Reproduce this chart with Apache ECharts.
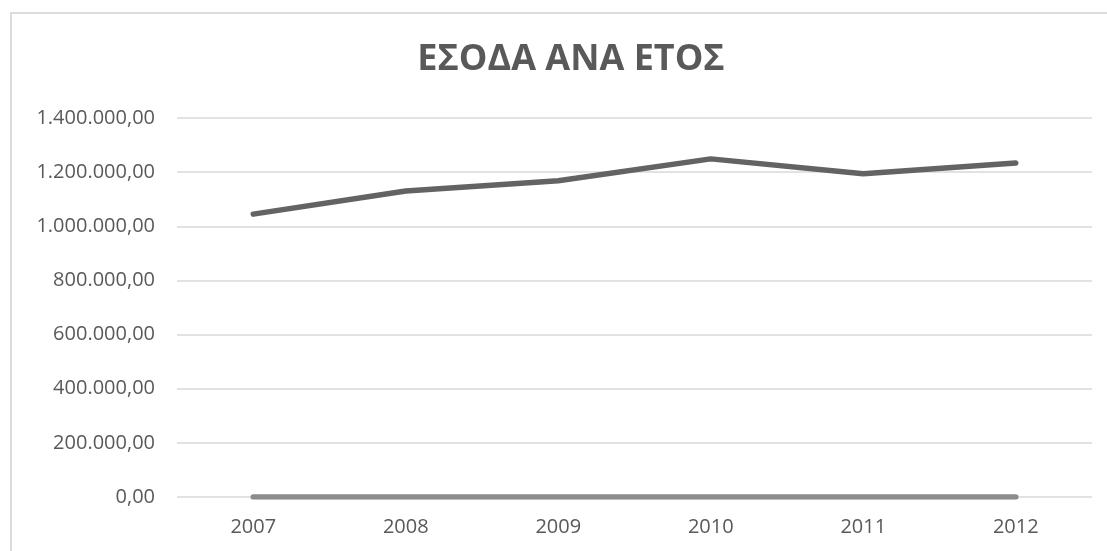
<!DOCTYPE html>
<html>
<head>
<meta charset="utf-8">
<script src="https://cdn.jsdelivr.net/npm/echarts@6/dist/echarts.min.js"></script>
<style>
html,body{margin:0;padding:0;background:#fff;overflow:hidden;}
#frame{position:absolute;left:10px;top:12px;width:1200px;height:600px;border:2px solid #dcdcdc;box-sizing:border-box;}
#chart{position:absolute;left:0;top:0;width:1107px;height:551px;}
</style>
</head>
<body>
<div id="frame"></div>
<div id="chart"></div>
<script>
var titleText = 'ΕΣΟΔΑ ΑΝΑ ΕΤΟΣ';
var years = ['2007', '2008', '2009', '2010', '2011', '2012'];
var revenue = [1045000, 1130000, 1168000, 1249000, 1194000, 1234000];
var zeroSeries = [0, 0, 0, 0, 0, 0];
var yMin = 0, yMax = 1400000, yStep = 200000;

function fmt(v) {
  var s = Math.round(v).toString().replace(/\B(?=(\d{3})+(?!\d))/g, '.');
  return s + ',00';
}

var chart = echarts.init(document.getElementById('chart'), null, {renderer: 'canvas'});
chart.setOption({
  backgroundColor: 'transparent',
  animation: false,
  title: {
    text: titleText,
    left: 566,
    textAlign: 'center',
    top: 37,
    textStyle: {fontFamily: 'Open Sans', fontWeight: 'bold', fontSize: 36, color: '#595959'}
  },
  grid: {left: 177, right: 15, top: 118, bottom: 54, containLabel: false},
  xAxis: {
    type: 'category',
    data: years,
    boundaryGap: true,
    axisLine: {show: false},
    axisTick: {show: false},
    axisLabel: {color: '#595959', fontFamily: 'Open Sans', fontSize: 20, margin: 20}
  },
  yAxis: {
    type: 'value',
    min: yMin, max: yMax, interval: yStep,
    axisLine: {show: false},
    axisTick: {show: false},
    splitLine: {lineStyle: {color: '#d9d9d9', width: 1.5}},
    axisLabel: {color: '#595959', fontFamily: 'Open Sans', fontSize: 20, margin: 22, formatter: fmt}
  },
  series: [
    {
      type: 'line', data: zeroSeries, symbol: 'none',
      lineStyle: {color: '#8c8c8c', width: 5.5, cap: 'round'}
    },
    {
      type: 'line', data: revenue, symbol: 'none',
      lineStyle: {color: '#636363', width: 5.5, cap: 'round', join: 'round'}
    }
  ]
});
</script>
</body>
</html>
